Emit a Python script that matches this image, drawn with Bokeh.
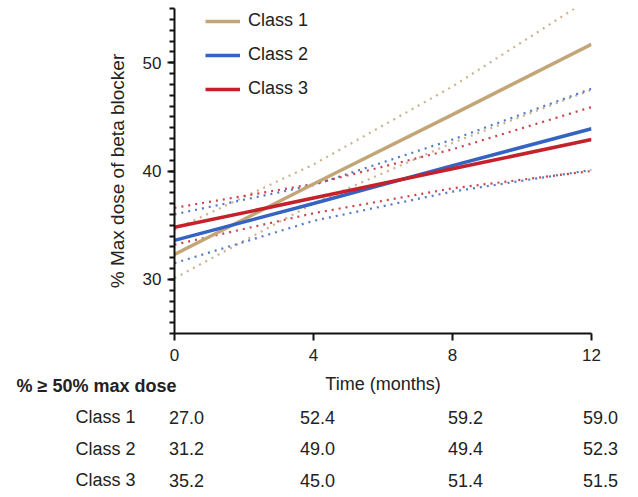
from bokeh.plotting import figure
from bokeh.layouts import column
from bokeh.models import Range1d, FixedTicker, Legend, LegendItem
from bokeh.core.properties import value
from bokeh.embed import file_html
from bokeh.resources import INLINE

# ---- data ----
months = [0, 4, 8, 12]
class_names = ["Class 1", "Class 2", "Class 3"]
class1_mean = [32.3, 38.8, 45.2, 51.7]
class1_upper = [34.6, 40.6, 47.8, 56.0]
class1_lower = [30.1, 37.0, 42.6, 47.5]
class2_mean = [33.6, 37.0, 40.5, 43.9]
class2_upper = [36.0, 38.7, 42.9, 47.6]
class2_lower = [31.5, 35.4, 38.1, 40.1]
class3_mean = [34.8, 37.5, 40.2, 42.9]
class3_upper = [36.6, 38.8, 42.0, 45.9]
class3_lower = [33.2, 36.1, 38.4, 40.0]
y_major_ticks = [30, 40, 50]
x_ticks = [0, 4, 8, 12]
x_title = "Time (months)"
table_title = "% \u2265 50% max dose"
pct_class1 = ["27.0", "52.4", "59.2", "59.0"]
pct_class2 = ["31.2", "49.0", "49.4", "52.3"]
pct_class3 = ["35.2", "45.0", "51.4", "51.5"]

colors = ["#C2A678", "#3563C2", "#C4212B"]
FONT = "Liberation Sans"
TXT = "#222222"

W = 630
LEFT, RIGHT = 174, 39
TOP_H = 370
TAB_H = 124

p = figure(width=W, height=TOP_H, output_backend="svg", toolbar_location=None,
           x_range=Range1d(0, 12), y_range=Range1d(25, 55),
           min_border_left=LEFT, min_border_right=RIGHT, min_border_top=8,
           min_border_bottom=37, frame_align=False)
p.outline_line_color = None
p.xgrid.visible = False
p.ygrid.visible = False

means = [class1_mean, class2_mean, class3_mean]
uppers = [class1_upper, class2_upper, class3_upper]
lowers = [class1_lower, class2_lower, class3_lower]

for c, up, lo in zip(colors, uppers, lowers):
    p.line(months, up, line_color=c, line_width=2.2, line_dash="2 5", line_alpha=0.85)
    p.line(months, lo, line_color=c, line_width=2.2, line_dash="2 5", line_alpha=0.85)

items = []
for name, c, m in zip(class_names, colors, means):
    r = p.line(months, m, line_color=c, line_width=3.5)
    items.append(LegendItem(label=name, renderers=[r]))

legend = Legend(items=items, location=(31, 234), padding=0, margin=0,
                glyph_width=35, glyph_height=20, label_height=20, spacing=13,
                label_standoff=8, border_line_color=None, background_fill_alpha=0,
                label_text_font=FONT, label_text_font_size="18px",
                label_text_color=TXT)
p.add_layout(legend)

p.yaxis.ticker = FixedTicker(ticks=y_major_ticks, minor_ticks=list(range(25, 56)))
p.xaxis.ticker = FixedTicker(ticks=x_ticks, minor_ticks=[])
for ax in (p.xaxis, p.yaxis):
    ax.axis_line_width = 2
    ax.axis_line_color = "#111111"
    ax.major_tick_line_width = 2
    ax.major_tick_line_color = "#111111"
    ax.major_tick_out = 7
    ax.major_tick_in = 0
    ax.minor_tick_line_width = 2
    ax.minor_tick_line_color = "#111111"
    ax.minor_tick_out = 5
    ax.minor_tick_in = 0
    ax.major_label_text_font = FONT
    ax.major_label_text_font_size = "17px"
    ax.major_label_text_color = TXT
    ax.axis_label_text_font = FONT
    ax.axis_label_text_font_style = "normal"
    ax.axis_label_text_color = TXT
p.yaxis.axis_label = "% Max dose of beta blocker"
p.yaxis.axis_label_text_font_size = "19px"
p.yaxis.major_label_standoff = 6
p.yaxis.axis_label_standoff = 12
p.xaxis.major_label_standoff = 8

# ---- table figure, same horizontal scale as the chart ----
px_per_month = (W - LEFT - RIGHT) / 12.0
row_pitch = 31.5      # pixels between table rows
first_row = 15.0      # pixels from table top to header row
t = figure(width=W, height=TAB_H, output_backend="svg", toolbar_location=None,
           x_range=Range1d(-LEFT / px_per_month, 12 + RIGHT / px_per_month),
           y_range=Range1d((TAB_H - first_row) / row_pitch, -first_row / row_pitch),
           min_border=0, min_border_left=0, min_border_right=0,
           min_border_top=0, min_border_bottom=0, frame_align=False)
t.axis.visible = False
t.grid.visible = False
t.outline_line_color = None

t.text(x=[6], y=[-0.05], text=[x_title], text_font=value(FONT), text_font_size="18px",
       text_color=TXT, text_align="center", text_baseline="middle")
t.text(x=[0], y=[0], text=[table_title], x_offset=-158, text_font=value(FONT),
       text_font_size="18px", text_font_style="bold", text_color=TXT,
       text_align="left", text_baseline="middle")

rows = [1, 2, 3]
t.text(x=[0, 0, 0], y=rows, text=class_names, x_offset=-99, text_font=value(FONT),
       text_font_size="18px", text_color=TXT, text_align="left", text_baseline="middle")

col_offsets = [12, 4, 13, 9]
for vals, r in zip([pct_class1, pct_class2, pct_class3], rows):
    t.text(x=months, y=[r] * len(months), text=vals, x_offset=col_offsets,
           text_font=value(FONT), text_font_size="18px", text_color=TXT,
           text_align="center", text_baseline="middle")

layout = column(p, t, spacing=0)
open("out.html", "w").write(file_html(layout, INLINE))
